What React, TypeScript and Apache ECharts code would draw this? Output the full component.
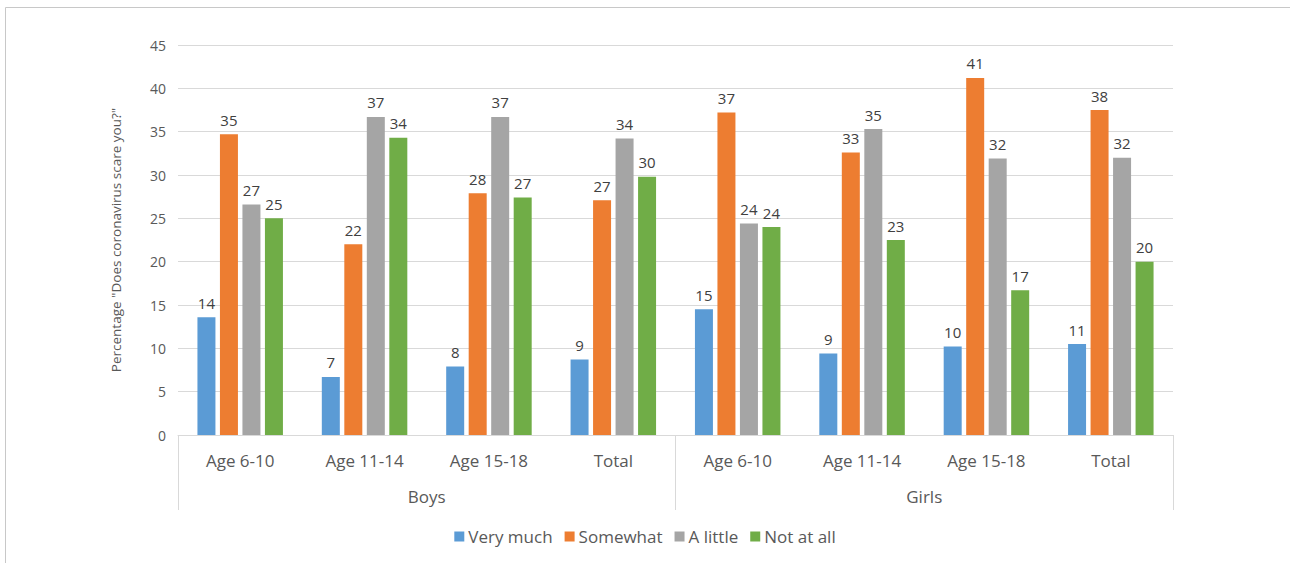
import React, { useEffect, useRef } from "react";
import * as echarts from "echarts";

const ageGroups = ["Age 6-10", "Age 11-14", "Age 15-18", "Total", "Age 6-10", "Age 11-14", "Age 15-18", "Total"];
const genders = ["Boys", "Girls"];
const seriesNames = ["Very much", "Somewhat", "A little", "Not at all"];
const veryMuch = [13.6, 6.7, 7.9, 8.7, 14.5, 9.4, 10.2, 10.5];
const somewhat = [34.7, 22.0, 27.9, 27.1, 37.2, 32.6, 41.2, 37.5];
const aLittle = [26.6, 36.7, 36.7, 34.2, 24.4, 35.3, 31.9, 32.0];
const notAtAll = [25.0, 34.3, 27.4, 29.8, 24.0, 22.5, 16.7, 20.0];
const yTicks = { min: 0, max: 45, interval: 5 };
const colors = ["#5B9BD5", "#ED7D31", "#A5A5A5", "#70AD47"];

const FONT = "'Open Sans', sans-serif";

export default function App() {
  const ref = useRef<HTMLDivElement>(null);
  useEffect(() => {
    if (!ref.current) return;
    const chart = echarts.init(ref.current, null, { renderer: "svg" });
    const values = [veryMuch, somewhat, aLittle, notAtAll];
    chart.setOption({
      animation: false,
      textStyle: { fontFamily: FONT },
      color: colors,
      grid: { left: 178, right: 117, top: 45, bottom: 128, containLabel: false },
      graphic: [
        {
          type: "rect",
          shape: { x: 5.5, y: 7.5, width: 1300, height: 600 },
          style: { fill: "none", stroke: "#c8c8c8", lineWidth: 1 },
          silent: true,
        },
      ],
      legend: {
        data: seriesNames,
        bottom: 13,
        left: "center",
        icon: "rect",
        itemWidth: 10,
        itemHeight: 10,
        itemGap: 12,
        textStyle: { fontSize: 17, color: "#595959", fontFamily: FONT, padding: [0, 0, 0, -1] },
      },
      xAxis: [
        {
          type: "category",
          data: ageGroups,
          position: "bottom",
          axisLine: { show: true, lineStyle: { color: "#d9d9d9" } },
          axisTick: { show: false },
          axisLabel: { fontSize: 17, color: "#595959", margin: 17, fontFamily: FONT },
        },
        {
          type: "category",
          data: genders,
          position: "bottom",
          axisLine: { show: false },
          axisTick: { show: true, length: 75, lineStyle: { color: "#d9d9d9" } },
          axisLabel: { fontSize: 17, color: "#595959", margin: 53, fontFamily: FONT },
          splitLine: { show: false },
        },
      ],
      yAxis: {
        type: "value",
        min: yTicks.min,
        max: yTicks.max,
        interval: yTicks.interval,
        name: 'Percentage "Does coronavirus scare you?"',
        nameLocation: "middle",
        nameGap: 55,
        nameRotate: 90,
        nameTextStyle: { fontSize: 13.5, color: "#595959", fontFamily: FONT },
        axisLine: { show: false },
        axisTick: { show: false },
        axisLabel: { fontSize: 14, color: "#595959", margin: 12, fontFamily: FONT },
        splitLine: { lineStyle: { color: "#d9d9d9" } },
      },
      series: seriesNames.map((name, i) => ({
        name,
        type: "bar",
        xAxisIndex: 0,
        data: values[i],
        barWidth: 18,
        barGap: "25%",
        itemStyle: { color: colors[i] },
        label: {
          show: true,
          position: "top",
          distance: 7,
          fontSize: 15,
          color: "#404040",
          fontFamily: FONT,
          formatter: (p: any) => String(Math.round(p.value)),
        },
      })),
    });
    return () => chart.dispose();
  }, []);
  return <div ref={ref} style={{ position: "fixed", left: 0, top: 0, width: 1290, height: 563, background: "#fff" }} />;
}
